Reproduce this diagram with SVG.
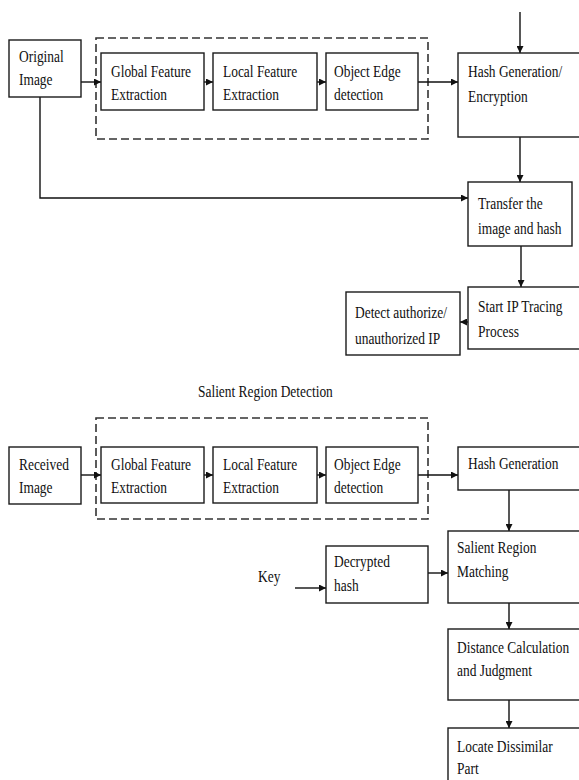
<svg xmlns="http://www.w3.org/2000/svg" width="579" height="780" viewBox="0 0 579 780">
<style>
.box{fill:#fff;stroke:#1a1a1a;stroke-width:1.4}
.dash{fill:none;stroke:#333;stroke-width:1.6;stroke-dasharray:8 4}
.ln{fill:none;stroke:#111;stroke-width:1.4;marker-end:url(#ah)}
text{font-family:"Liberation Serif","Times New Roman",serif;font-size:17px;fill:#111}
</style>
<defs>
<marker id="ah" viewBox="0 0 10 10" refX="10" refY="5" markerWidth="7" markerHeight="7" markerUnits="userSpaceOnUse" orient="auto">
<path d="M0,0 L10,5 L0,10 z" fill="#111"/>
</marker>
</defs>
<rect class="dash" x="96" y="38" width="332" height="101"/>
<rect class="dash" x="96" y="418" width="332" height="101"/>
<g id="connectors">
<line class="ln" x1="520" y1="12" x2="520" y2="53"/>
<line class="ln" x1="81" y1="82" x2="101" y2="82"/>
<line class="ln" x1="204" y1="82" x2="213" y2="82"/>
<line class="ln" x1="317" y1="82" x2="326" y2="82"/>
<line class="ln" x1="418" y1="82" x2="458" y2="82"/>
<line class="ln" x1="520" y1="137" x2="520" y2="182"/>
<polyline class="ln" points="40,97 40,198 468,198"/>
<line class="ln" x1="521" y1="246" x2="521" y2="287"/>
<line class="ln" x1="468" y1="322" x2="460" y2="322"/>
<line class="ln" x1="81" y1="475" x2="101" y2="475"/>
<line class="ln" x1="204" y1="475" x2="213" y2="475"/>
<line class="ln" x1="317" y1="475" x2="326" y2="475"/>
<line class="ln" x1="418" y1="475" x2="458" y2="475"/>
<line class="ln" x1="509" y1="490" x2="509" y2="531"/>
<line class="ln" x1="295" y1="588" x2="326" y2="588"/>
<line class="ln" x1="428" y1="573" x2="448" y2="573"/>
<line class="ln" x1="509" y1="603" x2="509" y2="629"/>
<line class="ln" x1="509" y1="700" x2="509" y2="728"/>
</g>
<g id="original">
<rect class="box" x="9" y="40" width="72" height="57"/>
<text transform="translate(19 62) scale(0.79 1)">Original</text>
<text transform="translate(19 85) scale(0.79 1)">Image</text>
</g>
<g id="global1">
<rect class="box" x="101" y="53" width="103" height="57"/>
<text transform="translate(111 77) scale(0.79 1)">Global Feature</text>
<text transform="translate(111 100) scale(0.79 1)">Extraction</text>
</g>
<g id="local1">
<rect class="box" x="213" y="53" width="104" height="57"/>
<text transform="translate(223 77) scale(0.79 1)">Local Feature</text>
<text transform="translate(223 100) scale(0.79 1)">Extraction</text>
</g>
<g id="edge1">
<rect class="box" x="326" y="53" width="92" height="57"/>
<text transform="translate(334 77) scale(0.79 1)">Object Edge</text>
<text transform="translate(334 100) scale(0.79 1)">detection</text>
</g>
<g id="hash1">
<rect class="box" x="458" y="53" width="130" height="84"/>
<text transform="translate(468 77) scale(0.79 1)">Hash Generation/</text>
<text transform="translate(468 102) scale(0.79 1)">Encryption</text>
</g>
<g id="transfer">
<rect class="box" x="468" y="182" width="104" height="64"/>
<text transform="translate(478 209) scale(0.79 1)">Transfer the</text>
<text transform="translate(478 234) scale(0.79 1)">image and hash</text>
</g>
<g id="startip">
<rect class="box" x="468" y="287" width="120" height="62"/>
<text transform="translate(478 312) scale(0.79 1)">Start IP Tracing</text>
<text transform="translate(478 337) scale(0.79 1)">Process</text>
</g>
<g id="detect">
<rect class="box" x="346" y="292" width="114" height="63"/>
<text transform="translate(355 318) scale(0.79 1)">Detect authorize/</text>
<text transform="translate(355 344) scale(0.79 1)">unauthorized IP</text>
</g>
<g id="title2">
<text transform="translate(198 397) scale(0.79 1)">Salient Region Detection</text>
</g>
<g id="received">
<rect class="box" x="9" y="447" width="72" height="57"/>
<text transform="translate(19 470) scale(0.79 1)">Received</text>
<text transform="translate(19 493) scale(0.79 1)">Image</text>
</g>
<g id="global2">
<rect class="box" x="101" y="447" width="103" height="56"/>
<text transform="translate(111 470) scale(0.79 1)">Global Feature</text>
<text transform="translate(111 493) scale(0.79 1)">Extraction</text>
</g>
<g id="local2">
<rect class="box" x="213" y="447" width="104" height="56"/>
<text transform="translate(223 470) scale(0.79 1)">Local Feature</text>
<text transform="translate(223 493) scale(0.79 1)">Extraction</text>
</g>
<g id="edge2">
<rect class="box" x="326" y="447" width="92" height="56"/>
<text transform="translate(334 470) scale(0.79 1)">Object Edge</text>
<text transform="translate(334 493) scale(0.79 1)">detection</text>
</g>
<g id="hash2">
<rect class="box" x="458" y="447" width="130" height="43"/>
<text transform="translate(468 469) scale(0.79 1)">Hash Generation</text>
</g>
<g id="key">
<text transform="translate(258 582) scale(0.79 1)">Key</text>
</g>
<g id="decrypted">
<rect class="box" x="326" y="546" width="102" height="57"/>
<text transform="translate(334 567) scale(0.79 1)">Decrypted</text>
<text transform="translate(334 591) scale(0.79 1)">hash</text>
</g>
<g id="matching">
<rect class="box" x="448" y="531" width="140" height="72"/>
<text transform="translate(457 553) scale(0.79 1)">Salient Region</text>
<text transform="translate(457 577) scale(0.79 1)">Matching</text>
</g>
<g id="distance">
<rect class="box" x="448" y="629" width="140" height="71"/>
<text transform="translate(457 653) scale(0.79 1)">Distance Calculation</text>
<text transform="translate(457 676) scale(0.79 1)">and Judgment</text>
</g>
<g id="locate">
<rect class="box" x="448" y="728" width="140" height="70"/>
<text transform="translate(457 752) scale(0.79 1)">Locate Dissimilar</text>
<text transform="translate(457 774) scale(0.79 1)">Part</text>
</g>
</svg>
